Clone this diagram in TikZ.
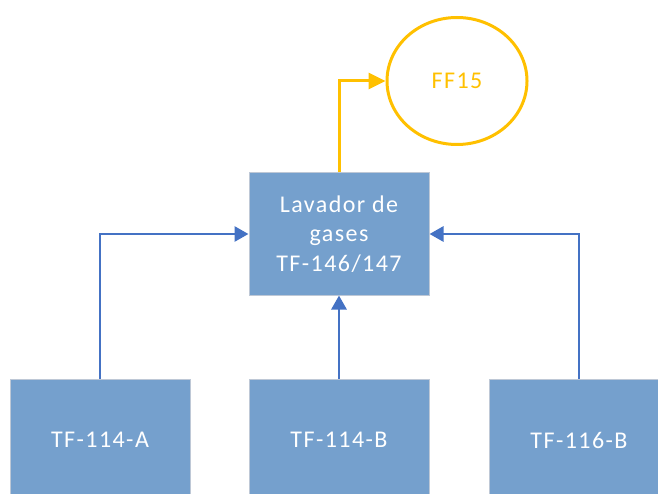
\documentclass[tikz,border=0pt]{standalone}
\usepackage{fontspec}
\setmainfont{Carlito}[LetterSpace=6]
\usetikzlibrary{arrows.meta,shapes.geometric}
\definecolor{boxblue}{RGB}{117,160,205}
\definecolor{boxedge}{RGB}{190,200,214}
\definecolor{lineblue}{RGB}{68,114,196}
\definecolor{gold}{RGB}{255,192,0}
\begin{document}
\begin{tikzpicture}[x=1pt,y=-1pt,
  caja/.style={rectangle,draw=boxedge,line width=1pt,fill=boxblue,
    minimum width=180pt,minimum height=122pt,inner sep=0pt,
    text=white,align=center,font=\fontsize{24}{29.5}\selectfont},
  flecha/.style={draw=lineblue,line width=2.8pt,
    -{Triangle[length=14pt,width=15pt]}},
  salida/.style={draw=gold,line width=3pt,
    -{Triangle[length=17pt,width=16pt]}}]
\useasboundingbox (0,0) rectangle (658,494);
\clip (0,0) rectangle (658,494);

\node[caja] (lavador) at (339,234) {Lavador de\\gases\\TF-146/147};
\node[ellipse,draw=gold,line width=3pt,minimum width=140pt,minimum height=127pt,
  text=gold,font=\fontsize{24}{29.5}\selectfont] (ff15) at (457,81) {FF15};

\node[caja] (tfa) at (100,440) {TF-114-A};
\node[caja] (tfb) at (339,440) {TF-114-B};
\node[caja] (tfc) at (579,440) {TF-116-B};

\draw[flecha] (tfa.north) |- (lavador.west);
\draw[flecha] (tfb.north) -- (lavador.south);
\draw[flecha] (tfc.north) |- (lavador.east);
\draw[salida] (lavador.north) |- (ff15.west);
\end{tikzpicture}
\end{document}
